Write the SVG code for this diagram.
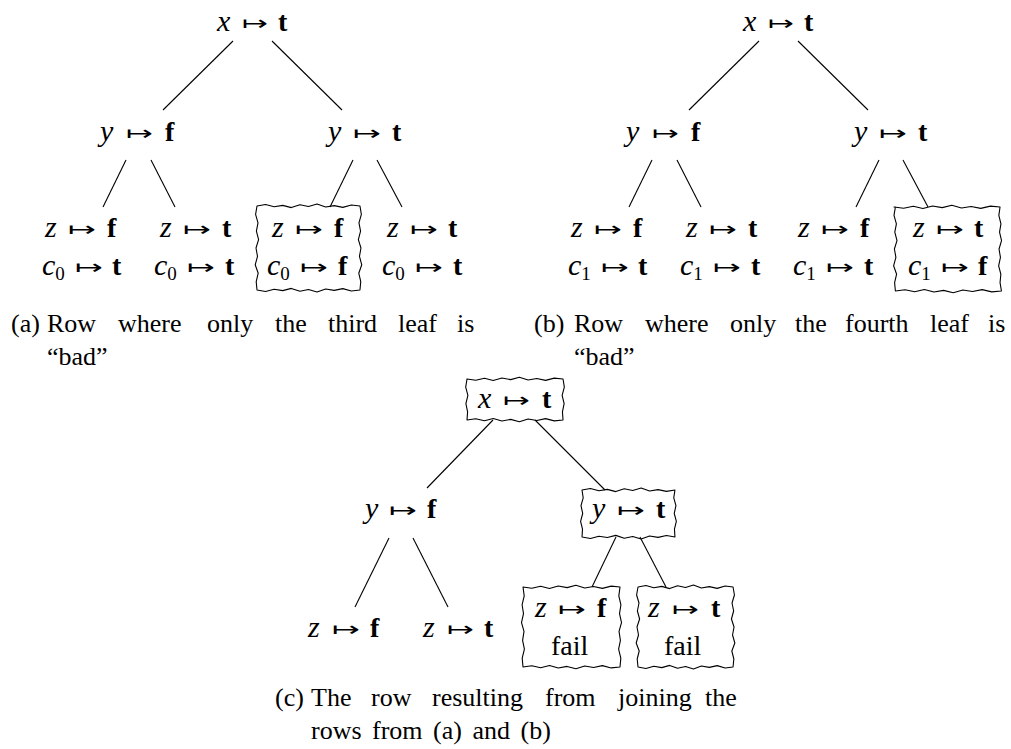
<svg xmlns="http://www.w3.org/2000/svg" width="1011" height="749" viewBox="0 0 1011 749">
<style>
.v{font-family:"Liberation Serif",serif;font-style:italic;font-size:30px}
.ar{font-family:"DejaVu Sans",sans-serif;font-size:20px}
.b{font-family:"Liberation Serif",serif;font-weight:bold;font-size:28px}
.r{font-family:"Liberation Serif",serif;font-size:28px}
.s{font-style:normal;font-size:19px}
.cap{font-family:"Liberation Serif",serif;font-size:26px}
.e{stroke:#000;stroke-width:1.1;fill:none}
.box{fill:none;stroke:#000;stroke-width:1.1;stroke-linejoin:round}
</style>
<rect width="1011" height="749" fill="#fff"/>

<g id="connectors">
<line class="e" x1="233" y1="41" x2="163" y2="110"/>
<line class="e" x1="272" y1="41" x2="342" y2="110"/>
<line class="e" x1="126" y1="160" x2="103" y2="207"/>
<line class="e" x1="151" y1="160" x2="175" y2="207"/>
<line class="e" x1="353" y1="160" x2="330" y2="207"/>
<line class="e" x1="377" y1="160" x2="402" y2="207"/>
<line class="e" x1="759" y1="41" x2="689" y2="110"/>
<line class="e" x1="798" y1="41" x2="868" y2="110"/>
<line class="e" x1="652" y1="160" x2="629" y2="207"/>
<line class="e" x1="677" y1="160" x2="701" y2="207"/>
<line class="e" x1="879" y1="160" x2="856" y2="207"/>
<line class="e" x1="903" y1="160" x2="928" y2="207"/>
<line class="e" x1="493" y1="420" x2="427" y2="488"/>
<line class="e" x1="535" y1="420" x2="605" y2="490"/>
<line class="e" x1="389" y1="538" x2="355" y2="607"/>
<line class="e" x1="413" y1="538" x2="448" y2="607"/>
<line class="e" x1="616" y1="537" x2="592" y2="587"/>
<line class="e" x1="640" y1="537" x2="666" y2="587"/>
</g>

<!-- Tree (a) -->
<g id="a-root">
<text class="v" x="217" y="31">x</text><text class="ar" x="242" y="30" textLength="26" lengthAdjust="spacingAndGlyphs">↦</text><text class="b" x="278" y="31">t</text>
</g>
<g id="a-yf">
<text class="v" x="100" y="141">y</text><text class="ar" x="126" y="140" textLength="27" lengthAdjust="spacingAndGlyphs">↦</text><text class="b" x="165" y="141">f</text>
</g>
<g id="a-yt">
<text class="v" x="328" y="141">y</text><text class="ar" x="353" y="140" textLength="28" lengthAdjust="spacingAndGlyphs">↦</text><text class="b" x="392" y="141">t</text>
</g>
<g id="a-leaf1">
<text class="v" x="45" y="237">z</text><text class="ar" x="68" y="236" textLength="28" lengthAdjust="spacingAndGlyphs">↦</text><text class="b" x="107" y="237">f</text>
<text class="v" x="42" y="275">c<tspan class="s" dy="5">0</tspan></text><text class="ar" x="75" y="274" textLength="28" lengthAdjust="spacingAndGlyphs">↦</text><text class="b" x="112" y="275">t</text>
</g>
<g id="a-leaf2">
<text class="v" x="160" y="237">z</text><text class="ar" x="183" y="236" textLength="28" lengthAdjust="spacingAndGlyphs">↦</text><text class="b" x="222" y="237">t</text>
<text class="v" x="154" y="275">c<tspan class="s" dy="5">0</tspan></text><text class="ar" x="187" y="274" textLength="28" lengthAdjust="spacingAndGlyphs">↦</text><text class="b" x="225" y="275">t</text>
</g>
<g id="a-leaf3">
<path class="box" d="M257,206 l8.58,-1.5 l8.58,2.3 l8.58,-1.4 l8.58,2.2 l8.58,-2.8 l8.58,1.7 l8.58,-2.5 l8.58,3 l8.58,-1.4 l8.58,1.8 l8.58,-2.4 l8.58,1 l1.4,8.4 l-2.4,8.4 l1.6,8.4 l-2.2,8.4 l2.6,8.4 l-1.5,8.4 l2.3,8.4 l-3,8.4 l2,8.4 l-0.8,8.4 l-8.58,1 l-8.58,-2.4 l-8.58,1.8 l-8.58,-1.4 l-8.58,3 l-8.58,-2.5 l-8.58,1.7 l-8.58,-2.8 l-8.58,2.2 l-8.58,-1.4 l-8.58,2.3 l-8.58,-1.5 l-0.8,-8.4 l2,-8.4 l-3,-8.4 l2.3,-8.4 l-1.5,-8.4 l2.6,-8.4 l-2.2,-8.4 l1.6,-8.4 l-2.4,-8.4 l1.4,-8.4 Z"/>
<text class="v" x="272" y="237">z</text><text class="ar" x="295" y="236" textLength="28" lengthAdjust="spacingAndGlyphs">↦</text><text class="b" x="334" y="237">f</text>
<text class="v" x="267" y="275">c<tspan class="s" dy="5">0</tspan></text><text class="ar" x="300" y="274" textLength="28" lengthAdjust="spacingAndGlyphs">↦</text><text class="b" x="338" y="275">f</text>
</g>
<g id="a-leaf4">
<text class="v" x="387" y="237">z</text><text class="ar" x="410" y="236" textLength="28" lengthAdjust="spacingAndGlyphs">↦</text><text class="b" x="448" y="237">t</text>
<text class="v" x="382" y="275">c<tspan class="s" dy="5">0</tspan></text><text class="ar" x="415" y="274" textLength="28" lengthAdjust="spacingAndGlyphs">↦</text><text class="b" x="453" y="275">t</text>
</g>

<!-- Tree (b) -->
<g id="b-root">
<text class="v" x="743" y="31">x</text><text class="ar" x="768" y="30" textLength="26" lengthAdjust="spacingAndGlyphs">↦</text><text class="b" x="804" y="31">t</text>
</g>
<g id="b-yf">
<text class="v" x="626" y="141">y</text><text class="ar" x="652" y="140" textLength="27" lengthAdjust="spacingAndGlyphs">↦</text><text class="b" x="691" y="141">f</text>
</g>
<g id="b-yt">
<text class="v" x="854" y="141">y</text><text class="ar" x="879" y="140" textLength="28" lengthAdjust="spacingAndGlyphs">↦</text><text class="b" x="918" y="141">t</text>
</g>
<g id="b-leaf1">
<text class="v" x="571" y="237">z</text><text class="ar" x="594" y="236" textLength="28" lengthAdjust="spacingAndGlyphs">↦</text><text class="b" x="633" y="237">f</text>
<text class="v" x="568" y="275">c<tspan class="s" dy="5">1</tspan></text><text class="ar" x="601" y="274" textLength="28" lengthAdjust="spacingAndGlyphs">↦</text><text class="b" x="638" y="275">t</text>
</g>
<g id="b-leaf2">
<text class="v" x="686" y="237">z</text><text class="ar" x="709" y="236" textLength="28" lengthAdjust="spacingAndGlyphs">↦</text><text class="b" x="748" y="237">t</text>
<text class="v" x="680" y="275">c<tspan class="s" dy="5">1</tspan></text><text class="ar" x="713" y="274" textLength="28" lengthAdjust="spacingAndGlyphs">↦</text><text class="b" x="751" y="275">t</text>
</g>
<g id="b-leaf3">
<text class="v" x="798" y="237">z</text><text class="ar" x="821" y="236" textLength="28" lengthAdjust="spacingAndGlyphs">↦</text><text class="b" x="860" y="237">f</text>
<text class="v" x="793" y="275">c<tspan class="s" dy="5">1</tspan></text><text class="ar" x="826" y="274" textLength="28" lengthAdjust="spacingAndGlyphs">↦</text><text class="b" x="864" y="275">t</text>
</g>
<g id="b-leaf4">
<path class="box" d="M894,207 l9.64,1.2 l9.64,-2 l9.64,2.3 l9.64,-2.5 l9.64,1.6 l9.64,-2.3 l9.64,2.7 l9.64,-1.5 l9.64,1.9 l9.64,-2.3 l9.64,0.9 l-1.2,8.4 l2.1,8.4 l-1.4,8.4 l2,8.4 l-2.5,8.4 l1.4,8.4 l-1.8,8.4 l2.2,8.4 l-0.8,8.4 l1.4,8.4 l-9.64,0.9 l-9.64,-2.3 l-9.64,1.9 l-9.64,-1.5 l-9.64,2.7 l-9.64,-2.3 l-9.64,1.6 l-9.64,-2.5 l-9.64,2.3 l-9.64,-2 l-9.64,1.2 l-0.8,-8.4 l2,-8.4 l-3,-8.4 l2.3,-8.4 l-1.5,-8.4 l2.6,-8.4 l-2.2,-8.4 l1.6,-8.4 l-2.4,-8.4 l1.4,-8.4 Z"/>
<text class="v" x="913" y="237">z</text><text class="ar" x="936" y="236" textLength="28" lengthAdjust="spacingAndGlyphs">↦</text><text class="b" x="974" y="237">t</text>
<text class="v" x="908" y="275">c<tspan class="s" dy="5">1</tspan></text><text class="ar" x="941" y="274" textLength="28" lengthAdjust="spacingAndGlyphs">↦</text><text class="b" x="978" y="275">f</text>
</g>

<!-- Tree (c) -->
<g id="c-root">
<path class="box" d="M467,379 l8.73,1.2 l8.73,-2 l8.73,2.3 l8.73,-2.5 l8.73,1.6 l8.73,-2.3 l8.73,2.7 l8.73,-1.5 l8.73,1.9 l8.73,-2.3 l8.73,0.9 l1.3,8.2 l-2.2,8.2 l2,8.2 l-1.7,8.2 l0.6,8.2 l-8.73,0.9 l-8.73,-2.3 l-8.73,1.9 l-8.73,-1.5 l-8.73,2.7 l-8.73,-2.3 l-8.73,1.6 l-8.73,-2.5 l-8.73,2.3 l-8.73,-2 l-8.73,1.2 l0.6,-8.2 l-1.7,-8.2 l2,-8.2 l-2.2,-8.2 l1.3,-8.2 Z"/>
<text class="v" x="478" y="408">x</text><text class="ar" x="503" y="407" textLength="27" lengthAdjust="spacingAndGlyphs">↦</text><text class="b" x="542" y="408">t</text>
</g>
<g id="c-yf">
<text class="v" x="365" y="518">y</text><text class="ar" x="389" y="517" textLength="28" lengthAdjust="spacingAndGlyphs">↦</text><text class="b" x="427" y="518">f</text>
</g>
<g id="c-yt">
<path class="box" d="M582,490 l8.45,-1.5 l8.45,2.3 l8.45,-1.4 l8.45,2.2 l8.45,-2.8 l8.45,1.7 l8.45,-2.5 l8.45,3 l8.45,-1.4 l8.45,1.8 l8.45,-1.4 l-1.2,7.83 l2.2,7.83 l-1.7,7.83 l2.1,7.83 l-1.9,7.83 l0.5,7.83 l-8.45,-1.4 l-8.45,1.8 l-8.45,-1.4 l-8.45,3 l-8.45,-2.5 l-8.45,1.7 l-8.45,-2.8 l-8.45,2.2 l-8.45,-1.4 l-8.45,2.3 l-8.45,-1.5 l0.5,-7.83 l-1.9,-7.83 l2.1,-7.83 l-1.7,-7.83 l2.2,-7.83 l-1.2,-7.83 Z"/>
<text class="v" x="592" y="518">y</text><text class="ar" x="617" y="517" textLength="28" lengthAdjust="spacingAndGlyphs">↦</text><text class="b" x="656" y="518">t</text>
</g>
<g id="c-leaf1">
<text class="v" x="308" y="637">z</text><text class="ar" x="332" y="636" textLength="28" lengthAdjust="spacingAndGlyphs">↦</text><text class="b" x="370" y="637">f</text>
</g>
<g id="c-leaf2">
<text class="v" x="423" y="637">z</text><text class="ar" x="447" y="636" textLength="27" lengthAdjust="spacingAndGlyphs">↦</text><text class="b" x="484" y="637">t</text>
</g>
<g id="c-leaf3">
<path class="box" d="M523,587 l8.82,1.2 l8.82,-2 l8.82,2.3 l8.82,-2.5 l8.82,1.6 l8.82,-2.3 l8.82,2.7 l8.82,-1.5 l8.82,1.9 l8.82,-2.3 l8.82,0.9 l-1.2,8.89 l2.1,8.89 l-1.4,8.89 l2,8.89 l-2.5,8.89 l1.4,8.89 l-1.8,8.89 l2.2,8.89 l-0.8,8.89 l-8.82,0.9 l-8.82,-2.3 l-8.82,1.9 l-8.82,-1.5 l-8.82,2.7 l-8.82,-2.3 l-8.82,1.6 l-8.82,-2.5 l-8.82,2.3 l-8.82,-2 l-8.82,1.2 l-0.8,-8.89 l2.2,-8.89 l-1.8,-8.89 l1.4,-8.89 l-2.5,-8.89 l2,-8.89 l-1.4,-8.89 l2.1,-8.89 l-1.2,-8.89 Z"/>
<text class="v" x="535" y="617">z</text><text class="ar" x="558" y="616" textLength="28" lengthAdjust="spacingAndGlyphs">↦</text><text class="b" x="597" y="617">f</text>
<text class="r" x="551" y="655">fail</text>
</g>
<g id="c-leaf4">
<path class="box" d="M638,587 l7.92,-1.5 l7.92,2.3 l7.92,-1.4 l7.92,2.2 l7.92,-2.8 l7.92,1.7 l7.92,-2.5 l7.92,3 l7.92,-1.4 l7.92,1.8 l7.92,-2.4 l7.92,1 l1.4,8 l-2.4,8 l1.6,8 l-2.2,8 l2.6,8 l-1.5,8 l2.3,8 l-3,8 l2,8 l-0.8,8 l-7.92,1 l-7.92,-2.4 l-7.92,1.8 l-7.92,-1.4 l-7.92,3 l-7.92,-2.5 l-7.92,1.7 l-7.92,-2.8 l-7.92,2.2 l-7.92,-1.4 l-7.92,2.3 l-7.92,-1.5 l-0.8,-8 l2,-8 l-3,-8 l2.3,-8 l-1.5,-8 l2.6,-8 l-2.2,-8 l1.6,-8 l-2.4,-8 l1.4,-8 Z"/>
<text class="v" x="648" y="617">z</text><text class="ar" x="672" y="616" textLength="27" lengthAdjust="spacingAndGlyphs">↦</text><text class="b" x="711" y="617">t</text>
<text class="r" x="664" y="655">fail</text>
</g>

<!-- Captions -->
<g id="caption-a">
<text class="cap" y="332"><tspan x="11">(a)</tspan><tspan x="47">Row</tspan><tspan x="118">where</tspan><tspan x="207">only</tspan><tspan x="275">the</tspan><tspan x="328">third</tspan><tspan x="398">leaf</tspan><tspan x="457">is</tspan></text>
<text class="cap" x="47" y="365">“bad”</text>
</g>
<g id="caption-b">
<text class="cap" y="332"><tspan x="534">(b)</tspan><tspan x="574">Row</tspan><tspan x="645">where</tspan><tspan x="730">only</tspan><tspan x="795">the</tspan><tspan x="845">fourth</tspan><tspan x="930">leaf</tspan><tspan x="988">is</tspan></text>
<text class="cap" x="574" y="365">“bad”</text>
</g>
<g id="caption-c">
<text class="cap" y="706"><tspan x="275">(c)</tspan><tspan x="311">The</tspan><tspan x="371">row</tspan><tspan x="432">resulting</tspan><tspan x="545">from</tspan><tspan x="618">joining</tspan><tspan x="705">the</tspan></text>
<text class="cap" x="311" y="739" style="word-spacing:4px">rows from (a) and (b)</text>
</g>
</svg>
